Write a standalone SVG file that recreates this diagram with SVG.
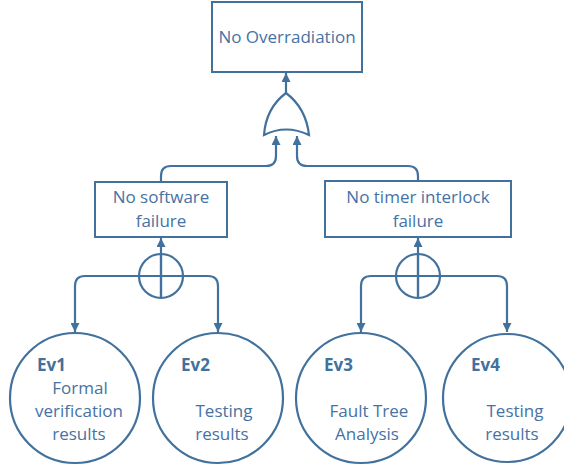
<svg xmlns="http://www.w3.org/2000/svg" width="564" height="468" viewBox="0 0 564 468">
<defs>
<style>
.box{fill:#fff;stroke:#41719C;stroke-width:2}
.ev{fill:#fff;stroke:#41719C;stroke-width:2.2}
.ln{fill:none;stroke:#41719C;stroke-width:2.2}
.t{font-family:"Open Sans","Liberation Sans",sans-serif;font-size:17px;fill:#4672A4;text-anchor:middle}
.b{font-family:"Open Sans","Liberation Sans",sans-serif;font-size:17px;font-weight:bold;fill:#41719C}
</style>
<marker id="ah" viewBox="0 0 10 10" refX="10" refY="5" markerWidth="9" markerHeight="9" markerUnits="userSpaceOnUse" orient="auto">
<path d="M0,0 L10,5 L0,10 z" fill="#41719C"/>
</marker>
</defs>
<rect width="564" height="468" fill="#fff"/>
<g id="connectors">
<path class="ln" d="M286,93 V73" marker-end="url(#ah)"/>
<path class="ln" d="M161,181 V176 Q161,166 171,166 H266 Q276,166 276,156 V136" marker-end="url(#ah)"/>
<path class="ln" d="M418,181 V176 Q418,166 408,166 H307 Q297,166 297,156 V136" marker-end="url(#ah)"/>
<path class="ln" d="M161,298 V238" marker-end="url(#ah)"/>
<path class="ln" d="M418,298 V238" marker-end="url(#ah)"/>
<path class="ln" d="M161,276 H85 Q75,276 75,286 V332" marker-end="url(#ah)"/>
<path class="ln" d="M161,276 H208 Q218,276 218,286 V332" marker-end="url(#ah)"/>
<path class="ln" d="M418,276 H371 Q361,276 361,286 V332" marker-end="url(#ah)"/>
<path class="ln" d="M418,276 H497 Q507,276 507,286 V332" marker-end="url(#ah)"/>
</g>
<g id="top">
<rect class="box" x="212" y="2" width="150" height="70"/>
<text class="t" x="287" y="43">No Overradiation</text>
</g>
<g id="or-gate">
<path class="ln" d="M264,135 Q266,108 286,93 Q306,108 309,135 Q286,124 264,135 Z" fill="#fff"/>
</g>
<g id="sw">
<rect class="box" x="95" y="182" width="132" height="55"/>
<text class="t" x="161" y="203">No software</text>
<text class="t" x="161" y="227">failure</text>
</g>
<g id="ti">
<rect class="box" x="325" y="181" width="186" height="56"/>
<text class="t" x="418" y="203">No timer interlock</text>
<text class="t" x="418" y="227">failure</text>
</g>
<g id="gate-sw">
<circle class="ln" cx="161" cy="276" r="22"/>
<path class="ln" d="M161,254 V298 M139,276 H183"/>
</g>
<g id="gate-ti">
<circle class="ln" cx="418" cy="276" r="22"/>
<path class="ln" d="M418,254 V298 M396,276 H440"/>
</g>
<g id="ev1">
<circle class="ev" cx="75" cy="398" r="65"/>
<text class="b" x="37" y="371">Ev1</text>
<text class="t" x="80" y="394">Formal</text>
<text class="t" x="79" y="417">verification</text>
<text class="t" x="79" y="440">results</text>
</g>
<g id="ev2">
<circle class="ev" cx="218" cy="398" r="65"/>
<text class="b" x="181" y="371">Ev2</text>
<text class="t" x="224" y="417">Testing</text>
<text class="t" x="222" y="440">results</text>
</g>
<g id="ev3">
<circle class="ev" cx="361" cy="398" r="65"/>
<text class="b" x="324" y="371">Ev3</text>
<text class="t" x="369" y="417">Fault Tree</text>
<text class="t" x="367" y="440">Analysis</text>
</g>
<g id="ev4">
<circle class="ev" cx="507" cy="398" r="64"/>
<text class="b" x="471" y="371">Ev4</text>
<text class="t" x="515" y="417">Testing</text>
<text class="t" x="512" y="440">results</text>
</g>
</svg>
